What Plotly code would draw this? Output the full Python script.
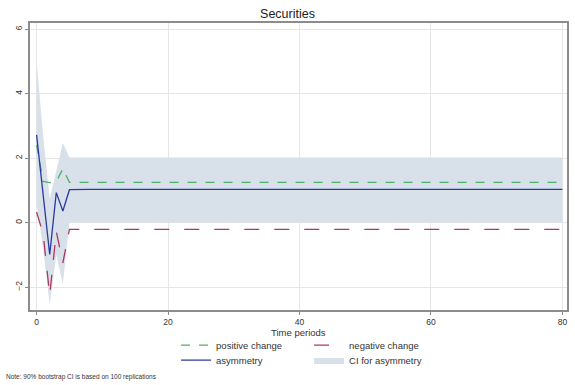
import plotly.graph_objects as go

# Time axis: periods 0..80
periods = list(range(81))

# Responses for the first periods, then the long-run level reached from period 6 on
positive_early = [2.41, 1.28, 1.24, 1.27, 1.67, 1.25]
positive_long = 1.25
negative_early = [0.33, -0.35, -2.25, -0.27, -1.25, -0.21]
negative_long = -0.21
asym_early = [2.72, 0.85, -0.99, 0.93, 0.36, 1.02]
asym_long = 1.03
ci_upper_early = [5.0, 2.7, 0.75, 1.6, 2.47, 2.02]
ci_upper_long = 2.02
ci_lower_early = [0.6, -0.8, -2.55, -1.0, -1.9, 0.0]
ci_lower_long = 0.0

n_long = len(periods) - 6
positive = positive_early + [positive_long] * n_long
negative = negative_early + [negative_long] * n_long
asymmetry = asym_early + [asym_long] * n_long
ci_upper = ci_upper_early + [ci_upper_long] * n_long
ci_lower = ci_lower_early + [ci_lower_long] * n_long

x_ticks = [0, 20, 40, 60, 80]
y_ticks = [-2, 0, 2, 4, 6]

FONT = "Liberation Sans, Arial, sans-serif"
GREEN = "#4fae6a"
RED = "#b0365e"
BLUE = "#2a3a9c"
FILL = "#d8e0ea"

fig = go.Figure()

# Confidence band
fig.add_trace(go.Scatter(x=periods, y=ci_lower, mode="lines", line=dict(width=0),
                         showlegend=False, hoverinfo="skip"))
fig.add_trace(go.Scatter(x=periods, y=ci_upper, mode="lines", line=dict(width=0),
                         fill="tonexty", fillcolor=FILL, name="CI for asymmetry",
                         legend="legend2", legendrank=2))

fig.add_trace(go.Scatter(x=periods, y=positive, mode="lines", name="positive change",
                         line=dict(color=GREEN, width=1.3, dash="dash"),
                         legend="legend", legendrank=1))
fig.add_trace(go.Scatter(x=periods, y=negative, mode="lines", name="negative change",
                         line=dict(color=RED, width=1.3, dash="longdash"),
                         legend="legend", legendrank=2))
fig.add_trace(go.Scatter(x=periods, y=asymmetry, mode="lines", name="asymmetry",
                         line=dict(color=BLUE, width=1.3),
                         legend="legend2", legendrank=1))

axis_common = dict(showline=True, linecolor="#8c8c8c", linewidth=1.5, mirror=True,
                   ticks="outside", tickcolor="#8c8c8c", ticklen=3,
                   showgrid=True, gridcolor="#e6e6e6", gridwidth=1, zeroline=False,
                   tickfont=dict(size=8.5, color="#333333", family=FONT))

legend_common = dict(orientation="h", xanchor="left", yanchor="top",
                     font=dict(size=9.5, color="#333333", family=FONT),
                     entrywidth=88, entrywidthmode="pixels",
                     bgcolor="rgba(0,0,0,0)", tracegroupgap=0,
                     itemwidth=30)

text_font = dict(size=9.5, color="#333333", family=FONT)

fig.update_layout(
    width=575, height=385,
    margin=dict(l=30, r=8, t=23, b=75, autoexpand=False),
    paper_bgcolor="white", plot_bgcolor="white",
    title=dict(text="Securities", x=0.5, xanchor="center", y=0.965, yanchor="middle",
               font=dict(size=12.5, color="#222222", family=FONT)),
    xaxis=dict(range=[-1, 80.7], tickvals=x_ticks, **axis_common),
    yaxis=dict(range=[-2.71, 6.19], tickvals=y_ticks, tickangle=-90, **axis_common),
    legend=dict(x=0.272, y=-0.072, traceorder="normal", **legend_common),
    legend2=dict(x=0.272, y=-0.124, traceorder="normal", **legend_common),
    annotations=[
        dict(text="Time periods", xref="paper", yref="paper", x=0.5, y=-0.057,
             xanchor="center", yanchor="top", borderpad=0, showarrow=False,
             font=text_font),
        dict(text="Note: 90% bootstrap CI is based on 100 replications",
             xref="paper", yref="paper", x=-0.048, y=-0.233,
             xanchor="left", yanchor="middle", showarrow=False,
             font=dict(size=6.5, color="#333333", family=FONT)),
    ],
)

fig.write_html("out.html")
